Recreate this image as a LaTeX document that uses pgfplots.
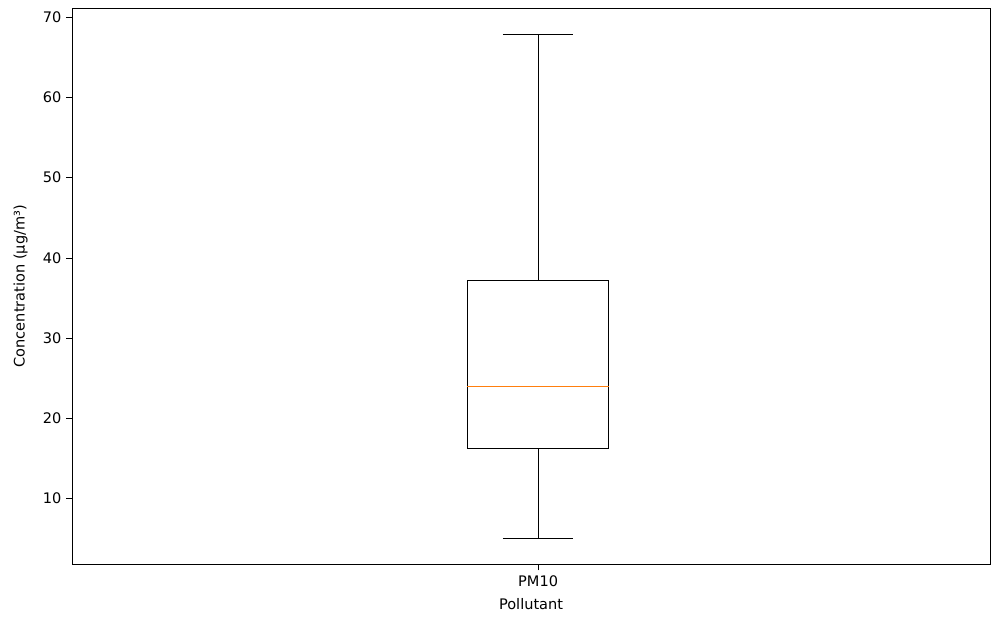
\documentclass[border=0pt]{standalone}
\usepackage{pgfplots}
\pgfplotsset{compat=1.18}
\usepackage{fontspec}
\setmainfont{DejaVu Sans}
\definecolor{mplorange}{RGB}{255,127,14}
\begin{document}
\begin{tikzpicture}
\begin{axis}[
  name=ax,
  scale only axis, width=9.17in, height=5.56in,
  xmin=-1.65, xmax=1.6, ymin=1.77, ymax=71.12,
  xtick={0}, xticklabels={PM10},
  ytick={10,20,30,40,50,60,70},
  tick pos=left,
  /pgf/number format/assume math mode=true,
  tick label style={font=\fontsize{10.5}{12}\selectfont},
  label style={font=\fontsize{10.5}{12}\selectfont},
  xlabel={Pollutant}, ylabel={Concentration (µg/m³)},
  tick align=outside, tick style={black},
  xlabel style={yshift=-2pt},
  ylabel style={yshift=4pt},
]
\addplot[black, mark=none] coordinates {(-0.25,16.24) (0.25,16.24) (0.25,37.2) (-0.25,37.2) (-0.25,16.24)};
\addplot[black, mark=none] coordinates {(0,16.24) (0,5.0)};
\addplot[black, mark=none] coordinates {(0,37.2) (0,67.88)};
\addplot[black, mark=none] coordinates {(-0.125,5.0) (0.125,5.0)};
\addplot[black, mark=none] coordinates {(-0.125,67.88) (0.125,67.88)};
\addplot[mplorange, line width=0.8pt, mark=none] coordinates {(-0.25,24.0) (0.25,24.0)};
\end{axis}
\path ([xshift=-0.72in]ax.south west) ([yshift=0.08in]ax.north east) ([xshift=0.01in,yshift=-0.52in]ax.south east);
\end{tikzpicture}
\end{document}
